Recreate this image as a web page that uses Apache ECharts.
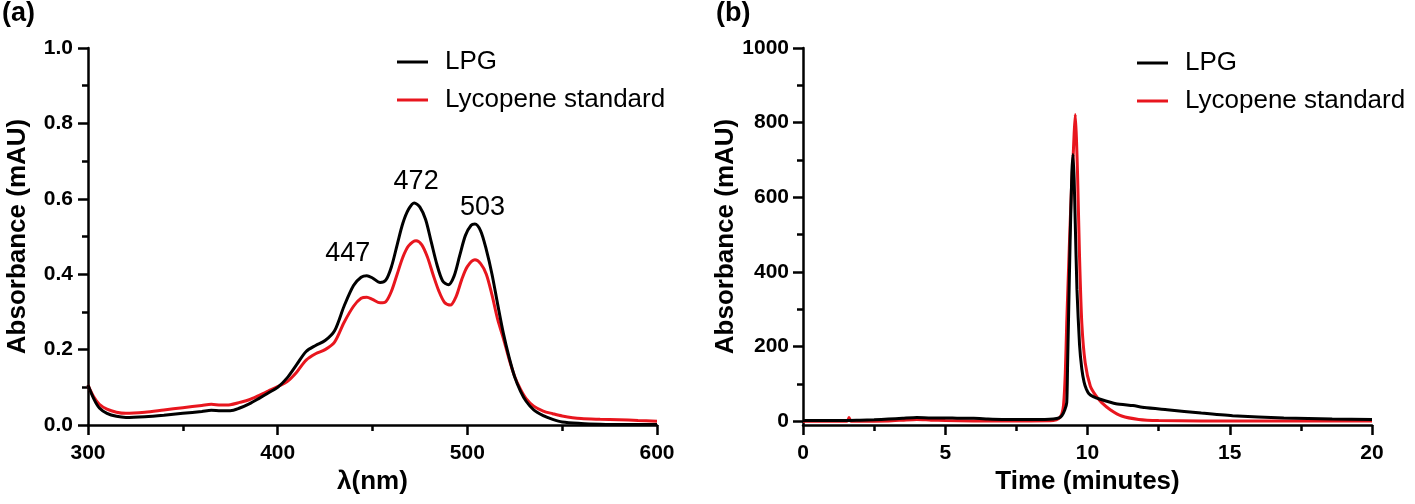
<!DOCTYPE html>
<html>
<head>
<meta charset="utf-8">
<script src="https://cdn.jsdelivr.net/npm/echarts@6/dist/echarts.min.js"></script>
<style>
html,body{margin:0;padding:0;background:#fff;}
#chart{width:1415px;height:504px;}
</style>
</head>
<body>
<div id="chart"></div>
<script>
// ---------- Panel (a): absorption spectra ----------
const wlLPG = [300,303,306,310,315,320,330,340,350,360,365,370,375,380,385,390,395,400,405,410,415,420,425,430,435,440,444,447,450,454,457,460,463,466,469,472,475,478,481,484,487,490,493,496,499,502,504,507,510,513,516,519,522,525,528,531,535,540,545,550,560,570,580,590,600];
const absLPG = [0.106,0.070,0.045,0.031,0.023,0.020,0.022,0.026,0.031,0.036,0.039,0.038,0.038,0.045,0.056,0.070,0.085,0.100,0.125,0.160,0.195,0.211,0.224,0.250,0.315,0.370,0.392,0.396,0.390,0.378,0.384,0.420,0.478,0.535,0.572,0.589,0.578,0.545,0.485,0.425,0.382,0.372,0.395,0.450,0.503,0.530,0.533,0.515,0.465,0.400,0.320,0.243,0.180,0.127,0.090,0.063,0.040,0.025,0.015,0.008,0.004,0.002,0.001,0.001,0.001];
const wlStd = [300,303,306,310,315,320,330,340,350,360,365,370,375,380,385,390,395,400,405,410,415,420,425,430,435,440,444,447,450,454,457,460,463,466,469,473,476,479,482,485,488,491,494,497,500,504,507,510,513,516,519,522,525,528,531,535,540,545,550,560,570,580,590,600];
const absStd = [0.106,0.075,0.055,0.042,0.034,0.031,0.034,0.040,0.046,0.052,0.055,0.053,0.054,0.060,0.067,0.078,0.090,0.102,0.115,0.140,0.172,0.189,0.200,0.220,0.272,0.315,0.336,0.339,0.333,0.324,0.327,0.355,0.400,0.445,0.475,0.489,0.478,0.445,0.398,0.355,0.325,0.318,0.340,0.385,0.420,0.438,0.428,0.400,0.345,0.280,0.230,0.175,0.128,0.095,0.070,0.050,0.037,0.030,0.024,0.017,0.015,0.014,0.012,0.010];
const peakLabels = ['447','472','503'];
const peakLabelX = [437, 473, 508];
const peakLabelY = [0.454, 0.646, 0.577];
const xTicksA = [300, 600, 100];   // min, max, interval
const yTicksA = [0, 1.0, 0.2];

// ---------- Panel (b): HPLC chromatograms ----------
const tLPG = [0,1,1.5,2,2.5,3,3.5,4,4.5,5,5.5,6,6.5,7,7.5,8,8.5,8.8,9.0,9.1,9.2,9.27,9.30,9.33,9.39,9.45,9.49,9.53,9.57,9.63,9.72,9.80,9.88,9.96,10.05,10.2,10.45,11.0,11.6,12.0,12.8,14.0,15.1,16.9,18.6,20];
const mauLPG = [2,2,2,3,4,6,8,10,9,9,8,8,6,5,5,5,5,6,9,15,30,50,150,263,486,664,715,650,530,352,205,140,105,86,74,66,59,47,42,37,31,22,15,9,6,4.5];
const tStd = [0,1.0,1.55,1.62,1.68,2,3,3.5,4,4.5,5,6,7,8,8.8,9.0,9.10,9.16,9.22,9.27,9.33,9.39,9.44,9.49,9.53,9.57,9.61,9.65,9.72,9.80,9.92,10.1,10.3,10.5,10.8,11.2,11.8,12.5,14,20];
const mauStd = [0,0,0,10,0,0,1,3,5,3,2,1,1,1,2,8,20,45,130,263,400,530,630,700,770,822,760,664,441,263,156,94,68,50,31,14,5,2,1,1];
const yMajorB = [0,200,400,600,800,1000];
const yMinorB = [100,300,500,700,900];

const BLACK = '#000000';
const RED = '#e8161e';
const FONT = 'Liberation Sans, Arial, sans-serif';
const tickFont = {fontFamily:FONT, fontWeight:'bold', fontSize:21, color:'#000'};
const nameFont = {fontFamily:FONT, fontWeight:'bold', fontSize:26, color:'#000'};
const axisLineStyle = {show:true, onZero:false, lineStyle:{color:'#000', width:2.5}};
const tickStyle = {show:true, length:10, lineStyle:{color:'#000', width:2.5}};
const minorStyle = {show:true, splitNumber:2, length:6, lineStyle:{color:'#000', width:2.5}};

function zip(a,b){ return a.map((v,i)=>[v,b[i]]); }

const chart = echarts.init(document.getElementById('chart'), null, {renderer:'canvas'});
const option = {
  animation:false,
  backgroundColor:'#fff',
  title:[
    {text:'(a)', left:2, top:0, padding:0, textStyle:{fontFamily:FONT, fontWeight:'bold', fontSize:27, color:'#000'}},
    {text:'(b)', left:716, top:0, padding:0, textStyle:{fontFamily:FONT, fontWeight:'bold', fontSize:27, color:'#000'}}
  ],
  legend:[
    {data:['LPG','Lycopene standard'], orient:'vertical', left:397, top:48, itemWidth:31, itemHeight:3, icon:'rect', itemGap:10,
     padding:0, selectedMode:false,
     textStyle:{fontFamily:FONT, fontSize:26, color:'#000', lineHeight:28, padding:[0,0,0,12]}},
    {data:['LPG','Lycopene standard'], orient:'vertical', left:1137, top:49, itemWidth:31, itemHeight:3, icon:'rect', itemGap:10,
     padding:0, selectedMode:false,
     textStyle:{fontFamily:FONT, fontSize:26, color:'#000', lineHeight:28, padding:[0,0,0,12]}}
  ],
  grid:[
    {left:88, right:758, top:48, bottom:79},
    {left:803, right:43, top:48, bottom:79}
  ],
  xAxis:[
    {type:'value', gridIndex:0, min:xTicksA[0], max:xTicksA[1], interval:xTicksA[2],
     name:'λ(nm)', nameLocation:'middle', nameGap:44, nameTextStyle:nameFont,
     axisLine:axisLineStyle, axisTick:tickStyle, minorTick:minorStyle, splitLine:{show:false},
     axisLabel:Object.assign({margin:18}, tickFont)},
    {type:'value', gridIndex:1, min:0, max:20, interval:5,
     name:'Time (minutes)', nameLocation:'middle', nameGap:44, nameTextStyle:nameFont,
     axisLine:axisLineStyle, axisTick:tickStyle, minorTick:minorStyle, splitLine:{show:false},
     axisLabel:Object.assign({margin:18}, tickFont)}
  ],
  yAxis:[
    {type:'value', gridIndex:0, min:yTicksA[0], max:yTicksA[1], interval:yTicksA[2],
     name:'Absorbance (mAU)', nameLocation:'middle', nameGap:57, nameTextStyle:nameFont,
     axisLine:axisLineStyle, axisTick:tickStyle, minorTick:minorStyle, splitLine:{show:false},
     axisLabel:Object.assign({margin:15, formatter:v=>v.toFixed(1)}, tickFont)},
    {type:'value', gridIndex:1, min:-10, max:1000,
     name:'Absorbance (mAU)', nameLocation:'middle', nameGap:60, nameTextStyle:nameFont,
     axisLine:axisLineStyle,
     axisTick:Object.assign({customValues:yMajorB}, tickStyle),
     splitLine:{show:false},
     axisLabel:Object.assign({margin:14, customValues:yMajorB, formatter:v=>String(v)}, tickFont)},
    {type:'value', gridIndex:1, min:-10, max:1000, position:'left',
     axisLine:{show:false},
     axisTick:{show:true, length:6, customValues:yMinorB, lineStyle:{color:'#000', width:2.5}},
     axisLabel:{show:false}, splitLine:{show:false}}
  ],
  series:[
    {name:'Lycopene standard', type:'line', xAxisIndex:0, yAxisIndex:0, data:zip(wlStd,absStd),
     showSymbol:false, symbol:'none', smooth:0.3, lineStyle:{color:RED, width:3}, itemStyle:{color:RED}},
    {name:'LPG', type:'line', xAxisIndex:0, yAxisIndex:0, data:zip(wlLPG,absLPG),
     showSymbol:false, symbol:'none', smooth:0.3, lineStyle:{color:BLACK, width:3}, itemStyle:{color:BLACK}},
    {name:'peaks', type:'scatter', xAxisIndex:0, yAxisIndex:0, symbolSize:0,
     itemStyle:{opacity:1, color:'#000'},
     data:peakLabels.map((t,i)=>({name:t, value:[peakLabelX[i], peakLabelY[i]]})),
     label:{show:true, position:'inside', formatter:p=>p.name, fontFamily:FONT, fontSize:27, color:'#000', opacity:1},
     silent:true},
    {name:'Lycopene standard', type:'line', xAxisIndex:1, yAxisIndex:1, data:zip(tStd,mauStd),
     showSymbol:false, symbol:'none', smooth:0.2, lineStyle:{color:RED, width:3}, itemStyle:{color:RED}},
    {name:'LPG', type:'line', xAxisIndex:1, yAxisIndex:1, data:zip(tLPG,mauLPG),
     showSymbol:false, symbol:'none', smooth:0.2, lineStyle:{color:BLACK, width:3}, itemStyle:{color:BLACK}}
  ]
};
chart.setOption(option);
</script>
</body>
</html>
